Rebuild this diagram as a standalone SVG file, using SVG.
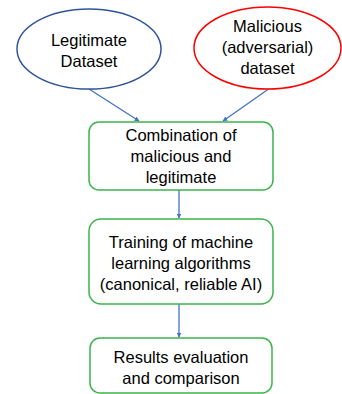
<svg xmlns="http://www.w3.org/2000/svg" width="342" height="394" viewBox="0 0 342 394">
<style>
.t{font-family:"Liberation Sans",Arial,sans-serif;font-size:16.5px;fill:#000;text-anchor:middle}
.box{fill:#fff;stroke:#3CB44B;stroke-width:1.5}
.c{stroke:#4472C4;stroke-width:1.3;fill:none;marker-end:url(#a)}
</style>
<defs>
<marker id="a" viewBox="0 0 10 10" refX="9" refY="5" markerWidth="5" markerHeight="5" orient="auto-start-reverse" markerUnits="userSpaceOnUse">
<path d="M0,0 L10,5 L0,10 z" fill="#4472C4"/>
</marker>
</defs>
<rect width="342" height="394" fill="#fff"/>
<g id="connectors">
<line class="c" x1="89" y1="89" x2="139" y2="121"/>
<line class="c" x1="270" y1="88" x2="223" y2="121"/>
<line class="c" x1="179" y1="190" x2="179" y2="218"/>
<line class="c" x1="179" y1="304" x2="179" y2="337"/>
</g>
<g id="legit">
<ellipse cx="89" cy="49" rx="72" ry="40" fill="#fff" stroke="#2F5597" stroke-width="1.5"/>
<text class="t" x="89" y="46">Legitimate</text>
<text class="t" x="89" y="67">Dataset</text>
</g>
<g id="malicious">
<ellipse cx="267.5" cy="48" rx="73.5" ry="41" fill="#fff" stroke="#FF0000" stroke-width="1.5"/>
<text class="t" x="267.5" y="32">Malicious</text>
<text class="t" x="267.5" y="53">(adversarial)</text>
<text class="t" x="267.5" y="74">dataset</text>
</g>
<g id="combination">
<rect class="box" x="89" y="122" width="184" height="68" rx="10"/>
<text class="t" x="181" y="141">Combination of</text>
<text class="t" x="181" y="162">malicious and</text>
<text class="t" x="181" y="183">legitimate</text>
</g>
<g id="training">
<rect class="box" x="89" y="219" width="184" height="85" rx="12"/>
<text class="t" x="181" y="248">Training of machine</text>
<text class="t" x="181" y="269">learning algorithms</text>
<text class="t" x="181" y="290">(canonical, reliable AI)</text>
</g>
<g id="results">
<rect class="box" x="90" y="338" width="182" height="55" rx="10"/>
<text class="t" x="181" y="363">Results evaluation</text>
<text class="t" x="181" y="384">and comparison</text>
</g>
</svg>
